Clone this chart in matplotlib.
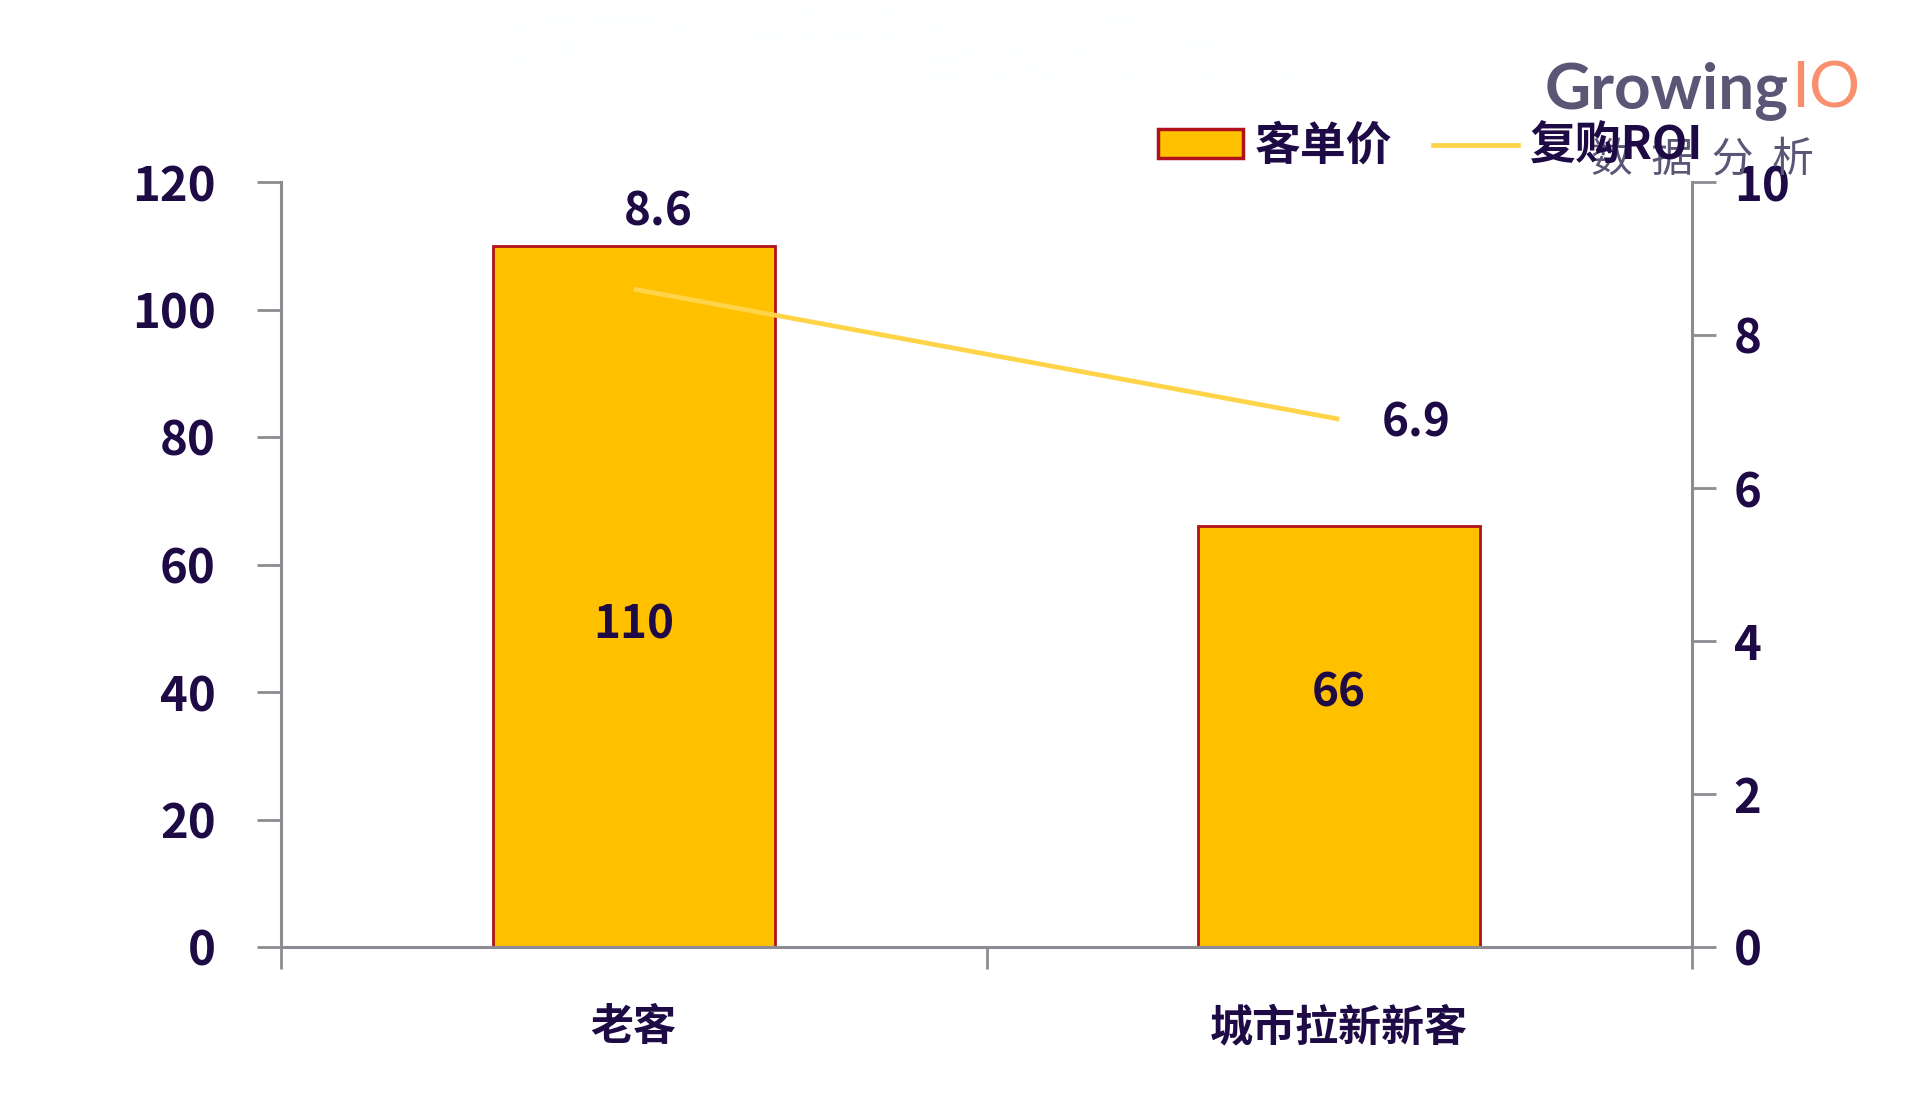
import matplotlib
matplotlib.use("Agg")
import matplotlib.pyplot as plt
from matplotlib.patches import Patch
from matplotlib.lines import Line2D

plt.rcParams['font.family'] = ['Noto Sans CJK SC', 'DejaVu Sans']

categories = ["老客", "城市拉新新客"]
price = [110, 66]
roi = [8.6, 6.9]
left_ticks = [0, 20, 40, 60, 80, 100, 120]
right_ticks = [0, 2, 4, 6, 8, 10]
title = "城市拉新新客复购情况"
legend_labels = ["客单价", "复购ROI"]

TXT = '#1e0b46'
AX = '#8c8c92'
BAR = '#FFC000'
EDGE = '#B0121B'
LINE = '#FFD448'

fig = plt.figure(figsize=(19.2, 11.07), dpi=100)
ax = fig.add_axes([281/1920, 1-947/1107, (1692-281)/1920, (947-182)/1107])
ax2 = ax.twinx()

x = list(range(len(categories)))
ax.bar(x, price, width=0.40, color=BAR, edgecolor=EDGE, linewidth=2.0, zorder=2)
ax.set_xlim(-0.5, 1.5)
ax.set_ylim(0, 120)
ax.set_yticks(left_ticks)
ax.set_xticks([-0.5, 0.5, 1.5])
ax.set_xticklabels([])
ax.set_xticks(x, minor=True)
ax.set_xticklabels(categories, minor=True)
ax.tick_params(axis='x', which='minor', length=0, pad=42, labelsize=31, labelcolor=TXT)
ax.tick_params(axis='x', which='major', length=16, width=2, color=AX, direction='out')
ax.tick_params(axis='y', length=17, width=2, color=AX, pad=30, labelsize=34, labelcolor=TXT)
for lbl in ax.get_xticklabels(minor=True) + ax.get_yticklabels():
    lbl.set_fontweight('bold')

ax2.plot(x, roi, color=LINE, lw=3.4, zorder=3, solid_capstyle='butt')
ax2.set_ylim(0, 10)
ax2.set_yticks(right_ticks)
ax2.tick_params(axis='y', length=17, width=2, color=AX, pad=13, labelsize=34, labelcolor=TXT)
for lbl in ax2.get_yticklabels():
    lbl.set_fontweight('bold')

for a in (ax, ax2):
    a.spines['top'].set_visible(False)
    for s in ('left', 'right', 'bottom'):
        a.spines[s].set_color(AX)
        a.spines[s].set_linewidth(2.2)
ax.spines['right'].set_visible(False)
ax2.spines['left'].set_visible(False)
ax2.spines['bottom'].set_visible(False)

# value labels
ax.text(x[0], 50.5, f"{price[0]}", ha='center', va='center', fontsize=33, fontweight='bold', color=TXT)
ax.text(x[1], 39.7, f"{price[1]}", ha='center', va='center', fontsize=33, fontweight='bold', color=TXT)
ax2.annotate(f"{roi[0]}", (x[0], roi[0]), xytext=(25, 77), textcoords='offset pixels',
             ha='center', va='center', fontsize=33, fontweight='bold', color=TXT)
ax2.annotate(f"{roi[1]}", (x[1], roi[1]), xytext=(43, -4), textcoords='offset pixels',
             ha='left', va='center', fontsize=33, fontweight='bold', color=TXT)

# title (white on white)
fig.text(904/1920, 1-50/1107, title, ha='center', va='center', fontsize=58,
         fontweight='bold', color='#fdfffe')

# legend
handles = [Patch(facecolor=BAR, edgecolor=EDGE, linewidth=2.5),
           Line2D([0], [0], color=LINE, lw=3.4)]
leg = fig.legend(handles, legend_labels, loc='center left',
                 bbox_to_anchor=(1158/1920, 1-147/1107), ncol=2, frameon=False,
                 handlelength=1.85, handleheight=0.6, handletextpad=0.25,
                 columnspacing=0.9, borderpad=0, borderaxespad=0,
                 prop={'size': 33, 'weight': 'bold'})
for t in leg.get_texts():
    t.set_color(TXT)

# logo
LOGO = '#5b5676'
t1 = fig.text(1545/1920, 1-108/1107, "Growing", ha='left', va='baseline',
              fontsize=46, fontweight='bold', color=LOGO, family=['Lato', 'DejaVu Sans'])
fig.canvas.draw()
bb = t1.get_window_extent()
fig.text(bb.x1/1920 + 2/1920, 1-108/1107, "IO", ha='left', va='baseline',
         fontsize=46, color='#F8906F', family=['Lato', 'DejaVu Sans'])
fig.text(1702/1920, 1-160/1107, "数  据  分  析", ha='center', va='center',
         fontsize=30, color=LOGO)

fig.savefig("out.png", dpi=100, facecolor='white')
